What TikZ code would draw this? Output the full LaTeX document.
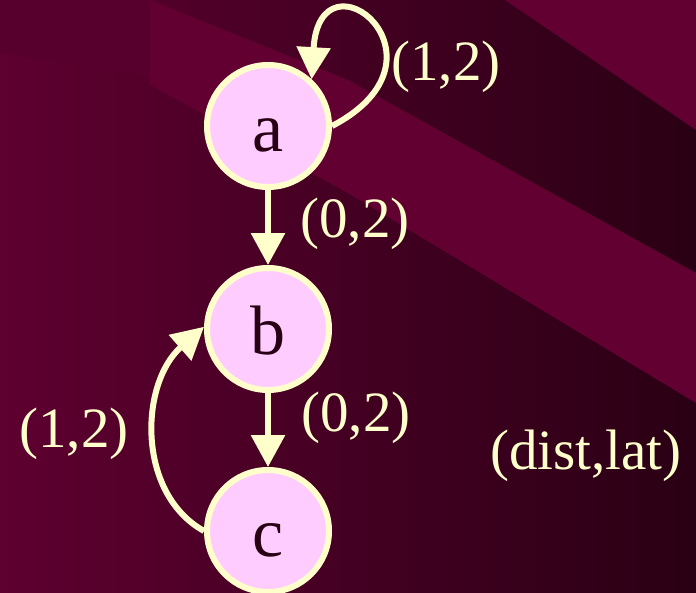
\documentclass[tikz,border=0pt]{standalone}
\usepackage{fontspec}
\setmainfont{Liberation Serif}
\usetikzlibrary{arrows.meta}

\begin{document}
\begin{tikzpicture}[
    x=1pt, y=-1pt,
    >={Triangle[length=32pt,width=33pt]},
    state/.style={
        circle,
        draw=edgecol,
        fill=nodecol,
        line width=6pt,
        minimum size=122pt,
        inner sep=0pt,
        text=lettercol,
        text height=50pt,
        text depth=0pt,
        font=\fontsize{70}{72}\selectfont
    },
    edgeline/.style={
        draw=edgecol,
        line width=6pt,
        ->
    },
    weight/.style={
        text=edgecol,
        anchor=base,
        inner sep=0pt,
        font=\fontsize{57}{60}\selectfont
    }
]

% ---------------------------------
% Colors
% ---------------------------------
\definecolor{bgleft}{RGB}{94,0,48}
\definecolor{bgright}{RGB}{42,0,20}
\definecolor{bgband}{RGB}{97,0,49}
\definecolor{bgcorner}{RGB}{88,0,45}
\definecolor{nodecol}{RGB}{255,204,255}
\definecolor{edgecol}{RGB}{255,255,204}
\definecolor{lettercol}{RGB}{40,0,20}

% ---------------------------------
% Background
% ---------------------------------
\useasboundingbox (0,0) rectangle (696,592);
\shade[left color=bgleft, right color=bgright] (0,0) rectangle (696,592);
\fill[bgcorner] (0,0) -- (150,0) -- (150,77) -- (0,53) -- cycle;
\fill[bgband] (505,0) -- (696,0) -- (696,130) -- cycle;
\fill[bgband] (150,0) -- (348,80) -- (696,273) -- (696,403) -- (348,193) -- (150,85) -- cycle;

% ---------------------------------
% States
% ---------------------------------
\node[state] (a) at (268,126) {a};
\node[state] (b) at (268,329) {b};
\node[state] (c) at (268,531) {c};

% ---------------------------------
% Transitions
% ---------------------------------
\draw[edgeline] (a) -- (b);
\draw[edgeline] (b) -- (c);
\draw[edgeline] (a.east) .. controls (462,58) and (320,-56) .. (a.47);
\draw[edgeline] (c.west) .. controls (136,493) and (140,383) .. (b.178);

% ---------------------------------
% Weights
% ---------------------------------
\node[weight] (wloop) at (446,80) {(1,2)};
\node[weight] (wab) at (355,237) {(0,2)};
\node[weight] (wbc) at (356,431) {(0,2)};
\node[weight] (wcb) at (74,447) {(1,2)};
\node[weight] (legend) at (586,469) {(dist,lat)};

\end{tikzpicture}
\end{document}
